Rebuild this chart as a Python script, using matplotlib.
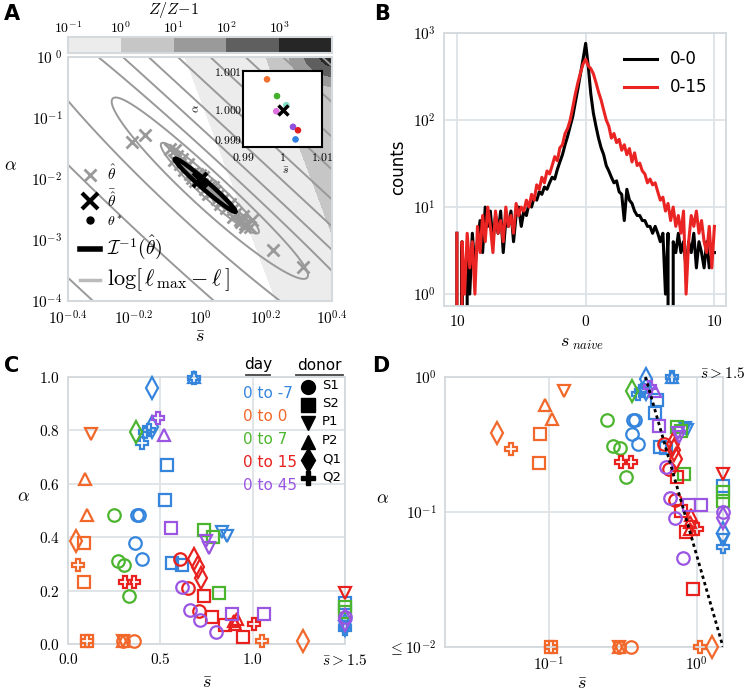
import numpy as np
import matplotlib
matplotlib.use('Agg')
import matplotlib.pyplot as plt
from matplotlib.lines import Line2D
from matplotlib.ticker import FixedLocator, FixedFormatter, NullLocator

plt.rcParams['mathtext.fontset'] = 'cm'
plt.rcParams['font.family'] = ['DejaVu Sans']

# ---------------- data ----------------
# Panel A
cbar_labels = ['$10^{-1}$', '$10^{0}$', '$10^{1}$', '$10^{2}$', '$10^{3}$']
cbar_colors = ['#ececec', '#c6c6c6', '#9a9a9a', '#5f5f5f', '#262626']
a_xticks = [-0.4, -0.2, 0.0, 0.2, 0.4]
a_xticklabels = ['$10^{-0.4}$', '$10^{-0.2}$', '$10^{0}$', '$10^{0.2}$', '$10^{0.4}$']
a_yticks = [-4, -3, -2, -1, 0]
a_yticklabels = ['$10^{-4}$', '$10^{-3}$', '$10^{-2}$', '$10^{-1}$', '$10^{\\ 0}$']

log_s_hat = [-0.09, -0.08, -0.075, -0.06, -0.055, -0.05, -0.04, -0.035, -0.03, -0.02,
             -0.015, -0.01, -0.005, 0.0, 0.005, 0.01, 0.015, 0.02, 0.025, 0.03,
             0.035, 0.04, 0.05, 0.055, 0.06, 0.07, 0.08, 0.09, 0.1, 0.11,
             0.12, 0.13, 0.135, 0.15, -0.207, -0.167, 0.222, 0.313, 0.157, 0.136,
             -0.07, -0.025, 0.045, 0.065, 0.1, 0.125]
log_alpha_hat = [-1.51, -1.69, -1.53, -1.75, -1.67, -1.86, -1.78, -1.75, -1.92, -1.90,
                 -2.03, -1.91, -2.02, -1.94, -2.09, -1.97, -2.16, -2.08, -2.25, -2.11,
                 -2.22, -2.13, -2.33, -2.27, -2.41, -2.33, -2.47, -2.41, -2.62, -2.56,
                 -2.68, -2.60, -2.74, -2.79, -1.39, -1.28, -3.16, -3.44, -2.67, -2.78,
                 -1.62, -1.98, -2.20, -2.36, -2.50, -2.70]
theta_bar = (0.0, -2.02)
theta_star = (0.005, -2.04)
fisher_center = (0.015, -2.1)
fisher_major = (0.0913, -0.431)
fisher_minor = (0.008, 0.049)

inset_s = [0.99608, 0.99861, 1.00096, 0.99843, 1.00266, 1.00392, 1.0033]
inset_alpha = [1.00078, 1.00034, 1.0001, 0.99994, 0.99953, 0.99944, 0.9992]
inset_colors = ['#f07030', '#45b02e', '#7fe0c8', '#e070e0', '#9050e0', '#e02020', '#3080e0']
inset_mean = (1.00013, 0.99998)

# Panel B
hist_x = np.linspace(-10, 10, 101)
counts_00 = [5, 0, 4, 0, 3, 1, 5, 2, 4, 7, 3, 10, 6, 9, 4, 8, 5, 9, 3, 7,
             6, 9, 4, 8, 10, 6, 9, 8, 11, 10, 13, 12, 15, 14, 17, 16, 19, 22, 21, 27,
             33, 40, 52, 65, 85, 110, 160, 230, 340, 500, 760, 420, 200, 120, 85, 62, 48, 40, 30, 26,
             22, 19, 20, 15, 14, 7, 16, 12, 11, 9, 8, 8, 7, 7, 6, 6, 5, 6, 5, 4,
             5, 1, 5, 0, 4, 3, 5, 3, 4, 2, 4, 3, 5, 2, 4, 3, 2, 4, 2, 3, 3]
counts_015 = [5, 0, 4, 1, 5, 2, 4, 1, 6, 3, 8, 4, 10, 6, 3, 9, 5, 7, 4, 10,
              6, 8, 5, 11, 8, 10, 9, 12, 10, 14, 12, 18, 16, 22, 19, 26, 24, 30, 38, 34,
              48, 52, 70, 80, 100, 140, 200, 270, 350, 440, 500, 420, 390, 340, 270, 210, 170, 130, 100, 85,
              62, 70, 55, 60, 45, 52, 40, 47, 33, 42, 30, 32, 26, 24, 19, 21, 18, 19, 15, 12,
              13, 9, 11, 7, 10, 6, 8, 5, 9, 1, 4, 8, 6, 9, 5, 7, 4, 3, 6, 2, 6]

# Panels C & D
pt_s = [0.454, 0.681, 0.681, 0.402, 0.418, 0.436, 0.456, 0.537, 0.523, 0.373, 0.384, 0.364, 0.402, 0.562, 0.618, 0.834, 0.861, 1.5, 1.5, 1.5, 1.5,
        0.126, 0.094, 0.105, 0.045, 0.088, 0.086, 0.056, 0.103, 0.103, 0.300, 0.300, 0.300, 0.36, 1.05, 1.27,
        0.366, 0.249, 0.270, 0.303, 0.333, 0.739, 0.784, 0.816, 1.5, 1.5,
        0.306, 0.360, 0.604, 0.649, 0.708, 0.685, 0.703, 0.721, 0.739, 0.780, 0.850, 0.946, 0.900, 0.915, 0.905, 1.005, 1.5,
        0.486, 0.519, 0.559, 0.748, 0.762, 0.618, 0.663, 0.715, 0.802, 0.886, 1.063, 1.5, 1.5]
pt_alpha = [0.960, 1.000, 0.995, 0.751, 0.794, 0.803, 0.813, 0.672, 0.541, 0.483, 0.483, 0.379, 0.318, 0.305, 0.296, 0.418, 0.405, 0.155, 0.07, 0.055, 0.062,
            0.786, 0.617, 0.485, 0.387, 0.380, 0.232, 0.295, 0.01, 0.01, 0.01, 0.01, 0.01, 0.01, 0.01, 0.01,
            0.794, 0.483, 0.310, 0.296, 0.181, 0.426, 0.399, 0.190, 0.14, 0.12,
            0.233, 0.233, 0.320, 0.208, 0.123, 0.320, 0.289, 0.246, 0.181, 0.102, 0.071, 0.027, 0.085, 0.095, 0.075, 0.075, 0.19,
            0.848, 0.784, 0.433, 0.385, 0.360, 0.214, 0.127, 0.090, 0.046, 0.112, 0.112, 0.10, 0.09]
pt_day = (['0 to -7'] * 21 + ['0 to 0'] * 15 + ['0 to 7'] * 10 + ['0 to 15'] * 17 + ['0 to 45'] * 13)
pt_donor = ['Q1', 'P2', 'Q2', 'Q2', 'Q2', 'Q2', 'Q1', 'S2', 'S2', 'S1', 'S1', 'S1', 'S1', 'S2', 'S2', 'P1', 'P1', 'S2', 'Q1', 'Q2', 'P1',
            'P1', 'P2', 'P2', 'Q1', 'S2', 'S2', 'Q2', 'S2', 'Q2', 'S1', 'P2', 'P1', 'S1', 'Q2', 'Q1',
            'Q1', 'S1', 'S1', 'S1', 'S1', 'S2', 'S2', 'S2', 'S2', 'S2',
            'Q2', 'Q2', 'S1', 'S1', 'S1', 'Q1', 'Q1', 'Q1', 'S2', 'S2', 'S2', 'S2', 'P2', 'P2', 'P2', 'Q2', 'P1',
            'Q2', 'P2', 'S2', 'P1', 'P1', 'S1', 'S1', 'S1', 'S1', 'S2', 'S2', 'S1', 'Q1']
days = ['0 to -7', '0 to 0', '0 to 7', '0 to 15', '0 to 45']
day_colors = ['#3585dc', '#f2672a', '#4cb52f', '#e8201e', '#9a55e3']
donors = ['S1', 'S2', 'P1', 'P2', 'Q1', 'Q2']
donor_markers = ['o', 's', 'v', '^', 'd', 'P']
model_s = [0.45, 1.5]
model_alpha = [1.0, 0.01]

# ---------------- figure ----------------
W, H = 750, 694
fig = plt.figure(figsize=(W / 100, H / 100), dpi=100)


def add_ax(x0, y0, x1, y1):
    return fig.add_axes([x0 / W, 1 - y1 / H, (x1 - x0) / W, (y1 - y0) / H])


def fx(px):
    return px / W


def fy(py):
    return 1 - py / H


grid_c = '#dde3e7'
spine_c = '#d3d9dd'
TICK_FS = 11

# ---------- Panel A ----------
axA = add_ax(68, 57, 332, 301)
u = np.linspace(-0.4, 0.4, 400)
v = np.linspace(-4, 0, 400)
U, V = np.meshgrid(u, v)
F_low = -1 + (U + 0.069 * V + 0.0455) / 0.245
r = np.sqrt(((0.42 - U) / 0.15) ** 2 + ((0.05 - V) / 0.54) ** 2)
F_high = 1 + (1 - r) / 0.3
F = np.maximum(F_low, F_high)
axA.contourf(U, V, F, levels=[-1, 0, 1, 2, 3, 20], colors=cbar_colors)
Xn = (U - 0.03) / 0.8
Yn = (V + 2.15) / 4
aa = (Xn - Yn) / np.sqrt(2)
bb = (Xn + Yn) / np.sqrt(2)
Q = (aa / 0.26) ** 2 + (bb / 0.04) ** 2 * np.exp(10 * np.clip(bb, 0, None))
axA.contour(U, V, np.log2(Q), levels=[0, 2, 4, 6, 8, 10, 12, 14, 16, 18], colors='#999999', linewidths=1.4)
axA.plot(log_s_hat, log_alpha_hat, ls='none', marker='x', color='#999999', ms=8, mew=2, zorder=3)
t = np.linspace(0, 2 * np.pi, 200)
ex = fisher_center[0] + np.cos(t) * fisher_major[0] + np.sin(t) * fisher_minor[0]
ey = fisher_center[1] + np.cos(t) * fisher_major[1] + np.sin(t) * fisher_minor[1]
axA.plot(ex, ey, color='k', lw=3.2, zorder=4)
axA.plot(*theta_star, ls='none', marker='o', color='k', ms=5, zorder=5)
axA.plot(*theta_bar, ls='none', marker='x', color='k', ms=10, mew=3, zorder=5)
axA.set_xlim(-0.4, 0.4)
axA.set_ylim(-4, 0)
axA.set_xticks(a_xticks)
axA.set_xticklabels(a_xticklabels, fontsize=TICK_FS)
axA.set_yticks(a_yticks)
axA.set_yticklabels(a_yticklabels, fontsize=TICK_FS)
axA.tick_params(axis='x', length=0, pad=6)
axA.tick_params(axis='y', length=0, pad=4)
for sp in axA.spines.values():
    sp.set_color(spine_c)
    sp.set_linewidth(1.5)

handles = [Line2D([], [], ls='none', marker='x', color='#999999', ms=8, mew=2),
           Line2D([], [], ls='none', marker='x', color='k', ms=11, mew=3),
           Line2D([], [], ls='none', marker='o', color='k', ms=5),
           Line2D([], [], color='k', lw=4),
           Line2D([], [], color='#bbbbbb', lw=2.5)]
labs = [r'$\hat{\theta}$', r'$\bar{\hat{\theta}}$', r'$\theta^*$',
        r'$\mathcal{I}^{-1}(\hat{\theta})$', r'$\log[\,\ell_{\,\max} - \ell\,]$']
legA = axA.legend(handles, labs, loc='upper left', bbox_to_anchor=(fx(72), fy(156)),
                  bbox_transform=fig.transFigure, frameon=False, handlelength=1.3,
                  handletextpad=0.5, labelspacing=0.32, borderpad=0, fontsize=11)
for txt, fs in zip(legA.get_texts(), [11, 11, 10, 14, 16]):
    txt.set_fontsize(fs)

# colorbar
axCb = add_ax(68, 37, 332, 53)
axCb.imshow(np.arange(5).reshape(1, 5), cmap=matplotlib.colors.ListedColormap(cbar_colors),
            aspect='auto', extent=[0, 5, 0, 1])
axCb.set_yticks([])
axCb.xaxis.tick_top()
axCb.set_xticks(range(5))
axCb.set_xticklabels(cbar_labels, fontsize=10)
axCb.tick_params(length=0, pad=0.5)
for sp in axCb.spines.values():
    sp.set_color(spine_c)
    sp.set_linewidth(1.5)
fig.text(fx(173), fy(10), '$Z/Z{-}1$', fontsize=11.5, ha='center', va='center')

# inset
axIn = add_ax(243, 71, 322, 147)
axIn.scatter(inset_s, inset_alpha, c=inset_colors, s=14, zorder=3)
axIn.plot(*inset_mean, ls='none', marker='x', color='k', ms=7, mew=2.5, zorder=4)
axIn.set_xlim(0.99, 1.01)
axIn.set_ylim(0.999, 1.001)
axIn.set_xticks([0.99, 1.0, 1.01])
axIn.set_xticklabels(['$0.99$', '$1$', '$1.01$'], fontsize=8.5)
axIn.set_yticks([0.999, 1.0, 1.001])
axIn.set_yticklabels(['$0.999$', '$1.000$', '$1.001$'], fontsize=8.5)
axIn.tick_params(axis='y', length=0, pad=0.5)
axIn.tick_params(axis='x', length=0, pad=3)
axIn.get_yticklabels()[0].set_va('bottom')
for sp in axIn.spines.values():
    sp.set_color('k')
    sp.set_linewidth(1.5)
axIn.set_facecolor('white')
fig.text(fx(196), fy(108), r'$\alpha$', fontsize=8.5, rotation=90, ha='center', va='center')
fig.text(fx(286), fy(170), r'$\bar{s}$', fontsize=8.5, ha='center', va='center')

fig.text(fx(200), fy(337), r'$\bar{s}$', fontsize=13, ha='center', va='center')
fig.text(fx(10), fy(165), r'$\alpha$', fontsize=13, ha='center', va='center')

# ---------- Panel B ----------
axB = add_ax(444, 33, 726, 306)
axB.plot(hist_x, counts_00, color='k', lw=2.2, label='0-0')
axB.plot(hist_x, counts_015, color='#ea2323', lw=2.2, label='0-15')
axB.set_yscale('log')
axB.set_xlim(-11, 10.9)
axB.set_ylim(0.73, 1000)
axB.set_xticks([-10, 0, 10])
axB.set_xticklabels(['$10$', '$0$', '$10$'], fontsize=TICK_FS)
axB.yaxis.set_major_locator(FixedLocator([1, 10, 100, 1000]))
axB.yaxis.set_major_formatter(FixedFormatter(['$10^{0}$', '$10^{1}$', '$10^{2}$', '$10^{3}$']))
axB.yaxis.set_minor_locator(NullLocator())
axB.tick_params(labelsize=TICK_FS)
axB.legend(loc='upper right', frameon=False, fontsize=12, handlelength=2.0,
           bbox_to_anchor=(fx(716), fy(42)), bbox_transform=fig.transFigure, borderpad=0,
           labelspacing=0.6)
fig.text(fx(398), fy(167), 'counts', fontsize=12, rotation=90, ha='center', va='center')
fig.text(fx(582), fy(343), r'$s_{\ naive}$', fontsize=13, ha='center', va='center')

# ---------- Panel C ----------
axC = add_ax(68, 377, 345, 644)
axD = add_ax(445, 377, 723, 647)
msz = {'o': 9, 's': 9, 'v': 9, '^': 9, 'd': 11, 'P': 9}
for s_, a_, d_, n_ in zip(pt_s, pt_alpha, pt_day, pt_donor):
    col = day_colors[days.index(d_)]
    mk = donor_markers[donors.index(n_)]
    for ax in (axC, axD):
        ax.plot([s_], [a_], ls='none', marker=mk, ms=msz[mk], mfc='none', mec=col,
                mew=1.6, clip_on=False, zorder=3)
axC.set_xlim(0, 1.5)
axC.set_ylim(0, 1.0)
axC.set_xticks([0, 0.5, 1.0, 1.5])
axC.set_xticklabels(['$0.0$', '$0.5$', '$1.0$', r'$\bar{s} > 1.5$'], fontsize=TICK_FS)
axC.set_yticks([0, 0.2, 0.4, 0.6, 0.8, 1.0])
axC.set_yticklabels(['$0.0$', '$0.2$', '$0.4$', '$0.6$', '$0.8$', '$1.0$'], fontsize=TICK_FS)
fig.text(fx(207), fy(683), r'$\bar{s}$', fontsize=13, ha='center', va='center')
fig.text(fx(23), fy(496), r'$\alpha$', fontsize=13, ha='center', va='center')

# custom legend for C
fig.text(fx(258), fy(365), 'day', fontsize=11, ha='center', va='center')
fig.text(fx(319), fy(365), 'donor', fontsize=11, ha='center', va='center')
fig.add_artist(Line2D([fx(246), fx(270)], [fy(375), fy(375)], color='#444444', lw=1.3))
fig.add_artist(Line2D([fx(296), fx(343)], [fy(375), fy(375)], color='#444444', lw=1.3))
for i, (d_, c_) in enumerate(zip(days, day_colors)):
    fig.text(fx(243), fy(393 + 23.1 * i), d_, color=c_, fontsize=11, ha='left', va='center')
for i, (n_, m_) in enumerate(zip(donors, donor_markers)):
    yy = fy(386.7 + 18.3 * i)
    fig.add_artist(Line2D([fx(308)], [yy], ls='none', marker=m_, color='k',
                          ms=msz[m_] + 1))
    fig.text(fx(322), yy + 0.002, n_, fontsize=9.5, ha='left', va='center')

# ---------- Panel D ----------
axD.plot(model_s, model_alpha, color='k', ls=(0, (1.2, 1.2)), lw=2, zorder=4)
axD.set_xscale('log')
axD.set_yscale('log')
axD.set_xlim(0.02, 1.5)
axD.set_ylim(0.01, 1.0)
axD.xaxis.set_major_locator(FixedLocator([0.1, 1.0]))
axD.xaxis.set_major_formatter(FixedFormatter(['$10^{-1}$', '$10^{0}$']))
axD.xaxis.set_minor_locator(NullLocator())
axD.yaxis.set_major_locator(FixedLocator([0.01, 0.1, 1.0]))
axD.yaxis.set_major_formatter(FixedFormatter([r'$\leq 10^{-2}$', '$10^{-1}$', '$10^{0}$']))
axD.yaxis.set_minor_locator(NullLocator())
fig.text(fx(700), fy(373), r'$\bar{s} > 1.5$', fontsize=TICK_FS, ha='left', va='center')
fig.text(fx(582), fy(684), r'$\bar{s}$', fontsize=13, ha='center', va='center')
fig.text(fx(382), fy(498), r'$\alpha$', fontsize=13, ha='center', va='center')

for ax in (axB, axC, axD):
    ax.grid(True, color=grid_c, lw=1.3)
    ax.set_axisbelow(True)
    for sp in ax.spines.values():
        sp.set_color(spine_c)
        sp.set_linewidth(1.3)
    ax.tick_params(length=0, pad=6, labelsize=TICK_FS)

# panel letters
for lab, px, py in [('A', 12, 14), ('B', 382, 14), ('C', 12, 366), ('D', 381, 366)]:
    fig.text(fx(px), fy(py), lab, fontsize=15, fontweight='bold', ha='center', va='center')

fig.savefig('out.png', dpi=100)
